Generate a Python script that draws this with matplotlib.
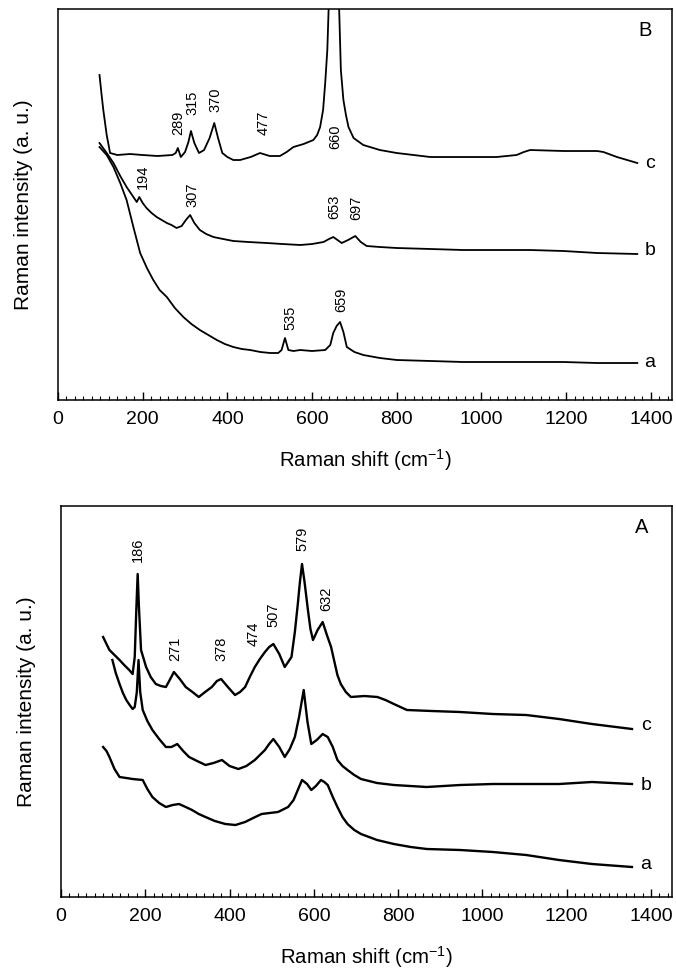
import matplotlib.pyplot as plt
from matplotlib.ticker import MultipleLocator

plt.rcParams['font.family'] = ['Liberation Sans', 'DejaVu Sans']

# ---- panel B (top) ----
b_a_x = [98, 115, 131, 147, 162, 178, 194, 210, 225, 240, 257, 276, 296, 315, 335, 355,
         375, 394, 414, 434, 454, 478, 501, 520, 528, 536, 544, 556, 572, 600, 631, 643,
         650, 658, 666, 674, 682, 700, 721, 760, 800, 880, 957, 1036, 1115, 1194, 1273,
         1368]
b_a_y = [253, 245, 233, 217, 200, 173, 147, 132, 120, 110, 103, 92, 83, 76, 70, 65,
         60, 56, 53, 51, 50, 48, 47, 47, 50, 62, 50, 49, 50, 49, 50, 55,
         67, 74, 78, 68, 53, 48, 45, 42, 40, 39, 38, 38, 38, 38, 37,
         37]

b_b_x = [98, 115, 131, 147, 162, 178, 186, 192, 200, 209, 221, 233, 245, 257, 268, 280,
         292, 302, 312, 322, 335, 350, 367, 390, 414, 450, 493, 530, 572, 600, 627, 640,
         650, 660, 670, 685, 702, 715, 729, 760, 800, 880, 957, 1036, 1115, 1194, 1273,
         1368]
b_b_y = [257, 247, 237, 224, 213, 203, 198, 203, 197, 192, 187, 183, 180, 177, 175, 172,
         174, 180, 185, 177, 170, 166, 163, 161, 159, 158, 157, 156, 155, 156, 158, 161,
         163, 160, 157, 160, 164, 158, 154, 153, 152, 151, 150, 150, 150, 149, 147,
         146]

b_c_x = [98, 103, 107, 115, 123, 140, 170, 200, 235, 270, 278, 283, 290, 300, 308, 314,
         322, 333, 345, 358, 369, 378, 388, 400, 414, 430, 455, 477, 500, 524, 540, 556,
         580, 603, 612, 619, 626, 631, 636, 639, 645, 652, 658, 662, 668, 674, 680, 686,
         698, 721, 760, 800, 879, 957, 1036, 1083, 1100, 1115, 1194, 1273, 1288, 1320,
         1368]
b_c_y = [325, 305, 290, 265, 247, 245, 246, 245, 244, 245, 247, 252, 243, 248, 258, 269,
         257, 247, 250, 262, 277, 262, 247, 243, 240, 240, 243, 247, 244, 244, 248, 253,
         256, 260, 265, 273, 290, 317, 350, 390, 600, 900, 600, 420, 330, 300, 285, 273,
         262, 255, 250, 247, 243, 243, 243, 245, 248, 250, 249, 249, 248, 243,
         237]

b_peaks = ['289', '315', '370', '477', '660', '194', '307', '653', '697', '535', '659']
b_peak_x = [284, 318, 373, 485, 654, 200, 318, 653, 705, 548, 670]
b_peak_y = [277, 297, 300, 277, 263, 223, 205, 193, 192, 82, 100]

# ---- panel A (bottom) ----
a_a_x = [100, 108, 115, 127, 139, 155, 170, 194, 205, 217, 233, 249, 265, 280, 296, 311,
         327, 343, 365, 390, 414, 437, 456, 476, 495, 515, 539, 552, 562, 572, 584, 594,
         605, 617, 625, 633, 645, 656, 668, 680, 696, 712, 750, 790, 830, 868, 947, 1025,
         1104, 1182, 1260, 1355]
a_a_y = [150, 146, 140, 128, 120, 119, 118, 117, 108, 100, 94, 90, 92, 93, 90, 87,
         83, 80, 76, 73, 72, 75, 79, 83, 84, 85, 90, 97, 107, 117, 113, 107,
         111, 117, 115, 112, 100, 90, 80, 73, 67, 63, 57, 53, 50, 48, 47, 45,
         42, 37, 33, 30]

a_b_x = [122, 130, 139, 147, 155, 163, 170, 175, 180, 184, 188, 194, 205, 217, 233, 249,
         262, 276, 290, 304, 323, 343, 362, 382, 400, 421, 440, 460, 472, 484, 494, 504,
         518, 531, 543, 555, 565, 576, 585, 594, 607, 621, 633, 645, 656, 668, 680, 696,
         712, 750, 790, 868, 947, 1025, 1104, 1182, 1260, 1355]
a_b_y = [237, 224, 213, 204, 197, 192, 188, 190, 205, 237, 205, 187, 176, 167, 158, 150,
         150, 153, 146, 140, 136, 132, 134, 137, 131, 128, 131, 137, 142, 147, 153, 158,
         150, 140, 148, 160, 180, 207, 175, 153, 157, 163, 160, 150, 137, 131, 127, 122,
         118, 114, 112, 110, 112, 113, 113, 113, 115, 113]

a_c_x = [100, 108, 115, 127, 139, 150, 162, 170, 175, 179, 182, 185, 190, 202, 213, 225,
         237, 249, 258, 268, 282, 296, 312, 327, 342, 358, 370, 380, 396, 413, 425, 437,
         448, 460, 472, 484, 494, 504, 518, 531, 547, 555, 562, 567, 572, 578, 586, 592,
         598, 609, 621, 631, 641, 649, 656, 664, 676, 688, 720, 751, 770, 790, 821, 880,
         947, 1025, 1104, 1182, 1260, 1355]
a_c_y = [260, 253, 247, 242, 237, 232, 227, 223, 240, 290, 323, 290, 247, 230, 220, 213,
         211, 210, 217, 225, 218, 210, 205, 200, 205, 210, 216, 218, 210, 202, 205, 210,
         220, 230, 238, 245, 250, 253, 243, 230, 240, 265, 293, 315, 333, 315, 287, 268,
         257, 267, 275, 262, 250, 235, 222, 213, 205, 200, 201, 200, 197, 193, 187, 186,
         185, 183, 182, 178, 173, 168]

a_peaks = ['186', '271', '378', '474', '507', '579', '632']
a_peak_x = [182, 271, 382, 456, 504, 574, 629]
a_peak_y = [347, 248, 248, 263, 282, 358, 298]

curve_names = ['a', 'b', 'c']
b_name_y = [38, 150, 237]
a_name_y = [33, 112, 172]

fig = plt.figure(figsize=(6.76, 9.69), dpi=100)
ax_b = fig.add_axes([0.0858, 0.5872, 0.9083, 0.4035])
ax_a = fig.add_axes([0.0902, 0.0743, 0.9039, 0.4035])


def style(ax):
    ax.set_xlim(0, 1450)
    ax.set_ylim(0, 391)
    ax.set_yticks([])
    ax.xaxis.set_minor_locator(MultipleLocator(20))
    ax.set_xticks(range(0, 1401, 200))
    ax.tick_params(axis='x', which='major', direction='in', length=6, width=1,
                   labelsize=14, pad=8)
    ax.tick_params(axis='x', which='minor', direction='in', length=3, width=0.8)
    for s in ax.spines.values():
        s.set_linewidth(1.1)
    ax.set_xlabel('Raman shift (cm$^{\\mathregular{-1}}$)', fontsize=14.7, labelpad=14)
    ax.set_ylabel('Raman intensity (a. u.)', fontsize=15, labelpad=18)


for xs, ys in [(b_a_x, b_a_y), (b_b_x, b_b_y), (b_c_x, b_c_y)]:
    ax_b.plot(xs, ys, color='black', lw=1.3)
for t, x, y in zip(b_peaks, b_peak_x, b_peak_y):
    ax_b.text(x, y, t, rotation=90, ha='center', va='center', fontsize=10.5)
for n, y in zip(curve_names, b_name_y):
    ax_b.text(1398, y, n, ha='center', va='center', fontsize=14)
ax_b.text(1386, 370, 'B', ha='center', va='center', fontsize=14.5)
style(ax_b)

for xs, ys in [(a_a_x, a_a_y), (a_b_x, a_b_y), (a_c_x, a_c_y)]:
    ax_a.plot(xs, ys, color='black', lw=1.7)
for t, x, y in zip(a_peaks, a_peak_x, a_peak_y):
    ax_a.text(x, y, t, rotation=90, ha='center', va='center', fontsize=10.5)
for n, y in zip(curve_names, a_name_y):
    ax_a.text(1388, y, n, ha='center', va='center', fontsize=14)
ax_a.text(1379, 370, 'A', ha='center', va='center', fontsize=14.5)
style(ax_a)

fig.savefig('out.png', dpi=100)
